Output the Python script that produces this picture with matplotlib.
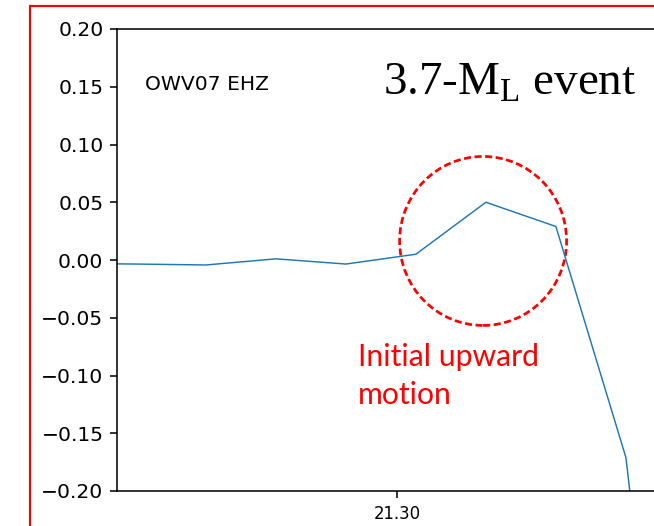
import matplotlib.pyplot as plt
from matplotlib.patches import Ellipse, Rectangle

# waveform samples (s, counts scaled)
t = [21.2527, 21.2627, 21.2727, 21.2827, 21.2927, 21.3027,
     21.3127, 21.3227, 21.3327, 21.3427]
amp = [-0.003, -0.0035, -0.0043, 0.001, -0.0035, 0.005,
       0.050, 0.029, -0.171, -0.69]

yticks = [-0.20, -0.15, -0.10, -0.05, 0.00, 0.05, 0.10, 0.15, 0.20]
xticks = [21.30]
xtick_labels = ['21.30']

W, H, dpi = 654, 526, 140
fig = plt.figure(figsize=(W / dpi, H / dpi), dpi=dpi)

# red frame round the panel (only left and top sides fall inside the image)
fig.patches.append(Rectangle((30 / W, -0.2), 2.0, 1.2 - 6 / H, transform=fig.transFigure,
                             fill=False, edgecolor='red', lw=1.1))

ax = fig.add_axes([117 / W, 35 / H, 560 / W, 462 / H])
ax.plot(t, amp, color='#1f77b4', lw=0.75)
ax.set_xlim(21.26, 21.34)
ax.set_ylim(-0.20, 0.20)
ax.set_yticks(yticks)
ax.set_yticklabels([f'{v:.2f}'.replace('-', '\u2212') for v in yticks], fontsize=10.4)
ax.set_xticks(xticks)
ax.set_xticklabels(xtick_labels, fontsize=8.5)
ax.spines['right'].set_visible(False)

ax.text(0.05, 0.88, 'OWV07 EHZ', transform=ax.transAxes, fontsize=10.4, va='center')
ax.text(383, 526 - 95, r'3.7-M$_\mathregular{L}$ event', transform=None,
        family='Liberation Serif', fontsize=24.2, va='baseline')

# dashed circle around the first arrival
ax.add_patch(Ellipse((21.3123, 0.0165), 167 / 7000, 169 / 1155, fill=False,
                     edgecolor='red', lw=1.4, linestyle=(0, (2.6, 1.3)), clip_on=False))
ax.text(358, 526 - 376, 'Initial upward\nmotion', transform=None, color='red',
        family='Lato', fontsize=15.5, va='center', linespacing=1.4)

fig.savefig('out.png', dpi=dpi)
